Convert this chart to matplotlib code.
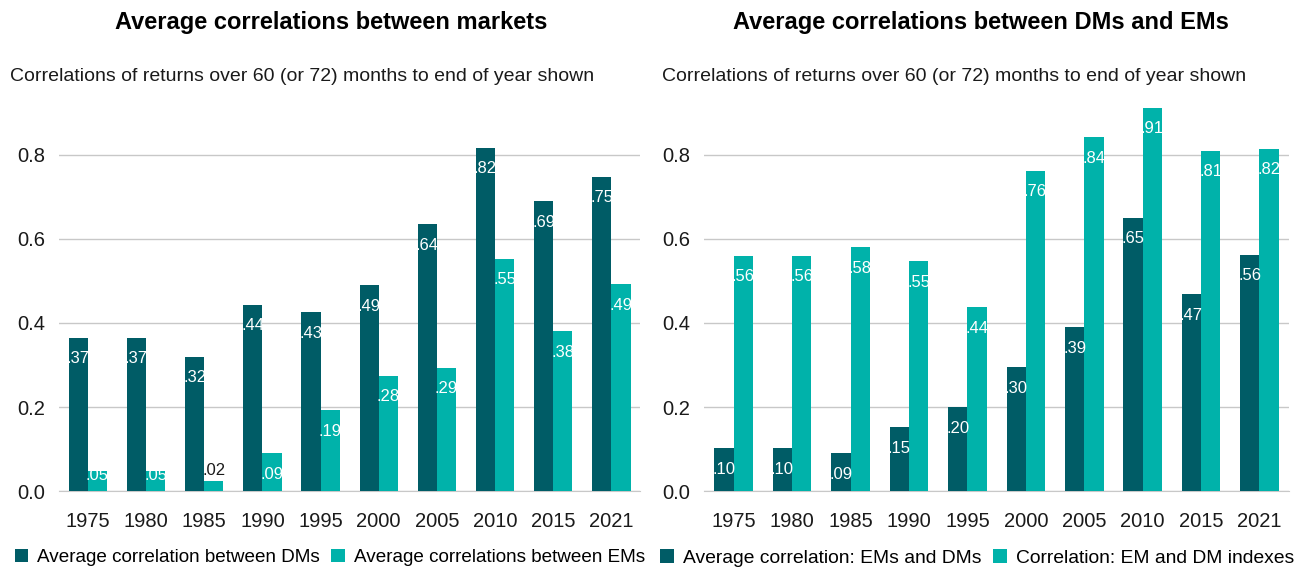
import numpy as np
import matplotlib.pyplot as plt

plt.rcParams["font.family"] = ["Liberation Sans", "DejaVu Sans"]

years = ["1975", "1980", "1985", "1990", "1995", "2000", "2005", "2010", "2015", "2021"]

# left panel
dm_corr = [0.365, 0.365, 0.32, 0.443, 0.425, 0.49, 0.635, 0.817, 0.69, 0.748]
em_corr = [0.047, 0.047, 0.023, 0.09, 0.192, 0.274, 0.293, 0.553, 0.38, 0.492]
dm_labels = [".37", ".37", ".32", ".44", ".43", ".49", ".64", ".82", ".69", ".75"]
em_labels = [".05", ".05", ".02", ".09", ".19", ".28", ".29", ".55", ".38", ".49"]

# right panel
em_dm_avg = [0.102, 0.102, 0.09, 0.152, 0.2, 0.295, 0.39, 0.65, 0.468, 0.562]
em_dm_idx = [0.56, 0.56, 0.58, 0.547, 0.437, 0.762, 0.842, 0.912, 0.81, 0.815]
avg_labels = [".10", ".10", ".09", ".15", ".20", ".30", ".39", ".65", ".47", ".56"]
idx_labels = [".56", ".56", ".58", ".55", ".44", ".76", ".84", ".91", ".81", ".82"]

dark = "#005c66"
light = "#00b2aa"
ink = "#1a1a1a"

fig = plt.figure(figsize=(13.07, 5.67), dpi=100)
ax1 = fig.add_axes([0.045, 0.134, 0.445, 0.689])
ax2 = fig.add_axes([0.539, 0.134, 0.447, 0.689])


def label_y(v):
    return max(v - 0.05, 0.036)


def draw(ax, a, b, la, lb, names, legend_size):
    x = np.arange(len(years))
    w = 0.33
    ax.bar(x - w / 2, a, w, color=dark, label=names[0], zorder=3)
    ax.bar(x + w / 2, b, w, color=light, label=names[1], zorder=3)
    for xi, v, t in zip(x, a, la):
        ax.text(xi - w / 2, label_y(v), t, ha="center", va="center",
                color="white", fontsize=12, zorder=4)
    for xi, v, t in zip(x, b, lb):
        if v < 0.035:
            ax.text(xi + w / 2, v + 0.027, t, ha="center", va="center",
                    color=ink, fontsize=12, zorder=4)
        else:
            ax.text(xi + w / 2, label_y(v), t, ha="center", va="center",
                    color="white", fontsize=12, zorder=4)
    ax.set_xticks(x)
    ax.set_xticklabels(years, fontsize=14.5, color=ink)
    ax.set_xlim(-0.5, len(years) - 0.5)
    ax.set_ylim(0, 0.93)
    ax.set_yticks([0, 0.2, 0.4, 0.6, 0.8])
    ax.set_yticklabels(["0.0", "0.2", "0.4", "0.6", "0.8"], fontsize=14.5, color=ink)
    ax.tick_params(axis="x", length=0, pad=15)
    ax.tick_params(axis="y", length=0, pad=10)
    ax.yaxis.grid(True, color="#c8c8c8", linewidth=1, zorder=0)
    for s in ["top", "right", "left"]:
        ax.spines[s].set_visible(False)
    ax.spines["bottom"].set_color("#c8c8c8")
    ax.legend(loc="center left", bbox_to_anchor=(-0.076, -0.171), ncol=2, frameon=False,
              fontsize=legend_size, handlelength=0.7, handleheight=0.7, handletextpad=0.5,
              columnspacing=0.6, borderaxespad=0, borderpad=0)


draw(ax1, dm_corr, em_corr, dm_labels, em_labels,
     ["Average correlation between DMs", "Average correlations between EMs"], 13.6)
draw(ax2, em_dm_avg, em_dm_idx, avg_labels, idx_labels,
     ["Average correlation: EMs and DMs", "Correlation: EM and DM indexes"], 13.85)

sub = "Correlations of returns over 60 (or 72) months to end of year shown"
fig.text(331 / 1307, 1 - 22 / 567, "Average correlations between markets",
         ha="center", va="center", fontsize=17, fontweight="bold", color="black")
fig.text(981 / 1307, 1 - 22 / 567, "Average correlations between DMs and EMs",
         ha="center", va="center", fontsize=17, fontweight="bold", color="black")
fig.text(10 / 1307, 1 - 77 / 567, sub, ha="left", va="center", fontsize=14, color=ink)
fig.text(662 / 1307, 1 - 77 / 567, sub, ha="left", va="center", fontsize=14, color=ink)

fig.savefig("out.png", dpi=100)
